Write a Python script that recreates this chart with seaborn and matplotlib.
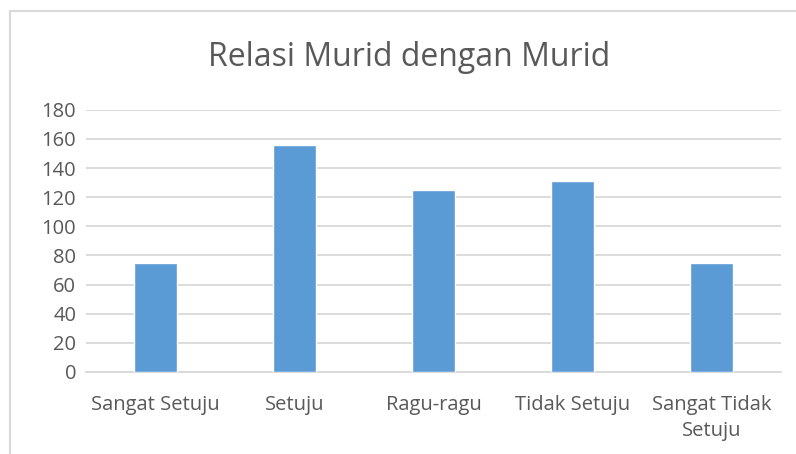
import pandas as pd
import seaborn as sns
import matplotlib.pyplot as plt
from matplotlib.patches import Rectangle

# Data
categories = ['Sangat Setuju', 'Setuju', 'Ragu-ragu', 'Tidak Setuju', 'Sangat Tidak\nSetuju']
values = [75, 156, 125, 131, 75]
title = 'Relasi Murid dengan Murid'

df = pd.DataFrame({'kategori': categories, 'jumlah': values})

sns.set_style('white')
plt.rcParams['font.family'] = ['Open Sans', 'DejaVu Sans']
text_color = '#595959'
grid_color = '#D9D9D9'

fig = plt.figure(figsize=(7.96, 4.54), dpi=100)
ax = fig.add_axes([0.108, 0.181, 0.873, 0.577])

sns.barplot(data=df, x='kategori', y='jumlah', color='#5B9BD5', width=0.31,
            saturation=1, ax=ax, zorder=3)

ax.set_ylim(0, 180)
ax.set_yticks(range(0, 181, 20))
ax.set_xlim(-0.5, len(categories) - 0.5)
ax.yaxis.grid(True, color=grid_color, linewidth=1.3, zorder=0)
for s in ['left', 'right', 'top']:
    ax.spines[s].set_visible(False)
ax.spines['bottom'].set_color(grid_color)
ax.spines['bottom'].set_linewidth(1.3)
ax.tick_params(axis='both', length=0, labelsize=14.5, colors=text_color, pad=7)
ax.tick_params(axis='x', pad=17)
for lbl in ax.get_xticklabels():
    lbl.set_linespacing(1.4)
ax.set_xlabel('')
ax.set_ylabel('')

fig.text(0.514, 0.873, title, ha='center', va='center', fontsize=23, color=text_color)

# chart border
fig.patches.append(Rectangle((10 / 796, -0.1), 1.0, 1 - 11 / 454 + 0.1,
                             transform=fig.transFigure, fill=False,
                             edgecolor=grid_color, linewidth=1.5))

fig.savefig('out.png', dpi=100)
